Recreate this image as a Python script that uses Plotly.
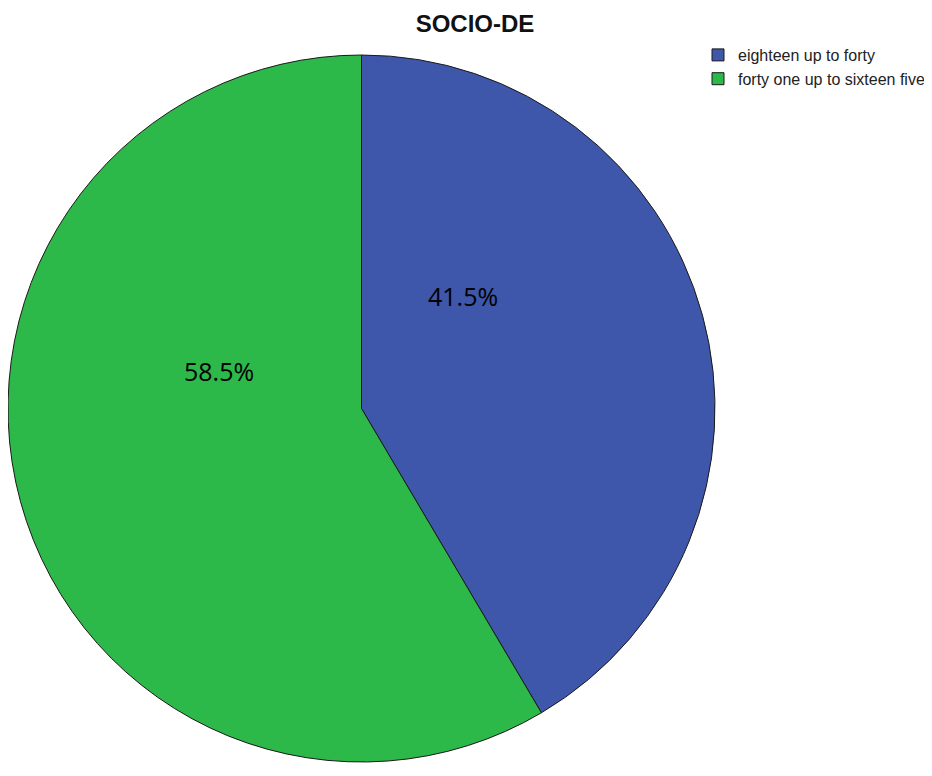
import plotly.graph_objects as go

categories = ["eighteen up to forty", "forty one up to sixteen five"]
values = [41.5, 58.5]
colors = ["#3E57AB", "#2DB84A"]
label_text = ["41.5%", "58.5%"]

W, H = 932, 776
OFF = 8  # page body margin in the browser
cx, cy, r = 361.5 - OFF, 408.5 - OFF, 353.5

# label anchor points (page px)
label_px = [(463, 296), (219, 371)]

fig = go.Figure(go.Pie(
    labels=categories,
    values=values,
    sort=False,
    direction="clockwise",
    rotation=0,
    marker=dict(colors=colors, line=dict(color="#1a1a1a", width=1)),
    textinfo="none",
    hoverinfo="label+percent",
    domain=dict(x=[max(0, (cx - r) / W), (cx + r) / W], y=[(H - cy - r) / H, (H - cy + r) / H]),
))

for t, (px, py) in zip(label_text, label_px):
    fig.add_annotation(
        text=t, x=(px - OFF) / W, y=1 - (py - OFF) / H, xref="paper", yref="paper",
        xanchor="center", yanchor="middle", showarrow=False,
        font=dict(family="Open Sans, Arial, sans-serif", size=25, color="black"),
    )

fig.update_layout(
    width=W, height=H,
    margin=dict(l=0, r=0, t=0, b=0),
    paper_bgcolor="white",
    plot_bgcolor="white",
    title=dict(text="<b>SOCIO-DE</b>", x=(475 - OFF) / W, xanchor="center", y=1 - (24 - OFF) / H, yanchor="middle",
               font=dict(family="Arial, Liberation Sans, sans-serif", size=24, color="#111")),
    legend=dict(x=690 / W, y=1 - 30 / H, xanchor="left", yanchor="top",
                font=dict(family="Arial, Liberation Sans, sans-serif", size=16, color="#222"),
                bgcolor="rgba(0,0,0,0)", itemwidth=30, tracegroupgap=0),
    showlegend=True,
)

fig.write_html("out.html")
